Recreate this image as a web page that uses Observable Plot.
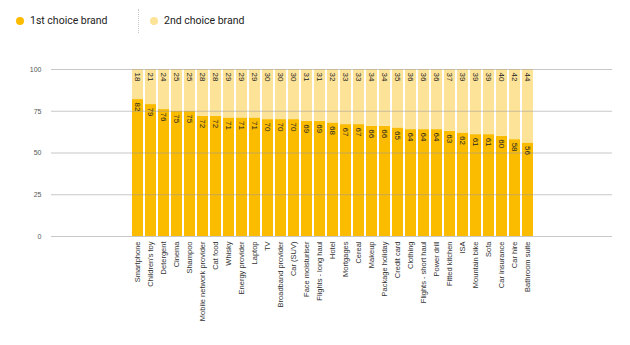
<!DOCTYPE html>
<html>
<head>
<meta charset="utf-8">
<script src="https://cdn.jsdelivr.net/npm/d3@7"></script>
<script src="https://cdn.jsdelivr.net/npm/@observablehq/plot@0.6"></script>
<style>
  html, body { margin: 0; padding: 0; background: #fff; }
  #legend { position: relative; height: 45px; width: 630px; font-family: Roboto, "Liberation Sans", sans-serif; font-size: 10.5px; color: #222; }
  .sw { position: absolute; width: 8px; height: 8px; border-radius: 50%; top: 17px; }
  .lb { position: absolute; top: 13px; line-height: 16px; }
  .sep { position: absolute; left: 138px; top: 9px; height: 24px; border-left: 1px dotted #c8c8c8; }
</style>
</head>
<body>
<div id="legend"></div>
<div id="chart"></div>
<script>
const categories = ["Smartphone","Children's toy","Detergent","Cinema","Shampoo","Mobile network provider","Cat food","Whisky","Energy provider","Laptop","TV","Broadband provider","Car (SUV)","Face moisturiser","Flights - long haul","Hotel","Mortgages","Cereal","Makeup","Package holiday","Credit card","Clothing","Flights - short haul","Power drill","Fitted kitchen","ISA","Mountain bike","Sofa","Car insurance","Car hire","Bathroom suite"];
const firstChoice = [82,79,76,75,75,72,72,71,71,71,70,70,70,69,69,68,67,67,66,66,65,64,64,64,63,62,61,61,60,58,56];
const secondChoice = [18,21,24,25,25,28,28,29,29,29,30,30,30,31,31,32,33,33,34,34,35,36,36,36,37,39,39,39,40,42,44];
const seriesNames = ["1st choice brand","2nd choice brand"];
const seriesColors = ["#fbbc00","#fde398"];
const yTicks = [0,25,50,75,100];

const rows = [];
categories.forEach((c, i) => {
  rows.push({cat: c, series: seriesNames[0], value: firstChoice[i]});
  rows.push({cat: c, series: seriesNames[1], value: secondChoice[i]});
});

// legend
const legend = document.getElementById("legend");
const lx = [{dot: 16, text: 30}, {dot: 150, text: 164}];
seriesNames.forEach((s, i) => {
  const d = document.createElement("div");
  d.className = "sw"; d.style.left = lx[i].dot + "px"; d.style.background = seriesColors[i];
  legend.appendChild(d);
  const t = document.createElement("div");
  t.className = "lb"; t.style.left = lx[i].text + "px"; t.textContent = s;
  legend.appendChild(t);
});
const sep = document.createElement("div"); sep.className = "sep"; legend.appendChild(sep);

const chart = Plot.plot({
  width: 630,
  height: 300,
  marginLeft: 116,
  marginRight: 81,
  marginTop: 24,
  marginBottom: 109,
  style: {fontFamily: "'Liberation Sans', Arial, sans-serif", fontSize: "7.5px", color: "#333", background: "transparent"},
  x: {domain: categories, padding: 0.14, label: null},
  y: {domain: [0, 100], clamp: true, label: null},
  color: {domain: seriesNames, range: seriesColors},
  marks: [
    Plot.barY(rows, {x: "cat", y: "value", fill: "series", z: "series"}),
    Plot.ruleY(yTicks, {stroke: "#9a9a9a", strokeOpacity: 0.55, strokeWidth: 1, insetLeft: -65, insetRight: -63}),
    Plot.text(rows, Plot.stackY2({x: "cat", y: "value", z: "series", text: "value", rotate: 90, textAnchor: "start", lineAnchor: "middle", dy: 3, fontSize: 8, fill: "#222"})),
    Plot.axisY(yTicks, {tickSize: 0, tickPadding: 75, fill: "#555", fontSize: 7}),
    Plot.axisX({tickSize: 0, tickPadding: 5, tickRotate: -90, fill: "#333", fontSize: 7.5})
  ]
});
document.getElementById("chart").appendChild(chart);
</script>
</body>
</html>
